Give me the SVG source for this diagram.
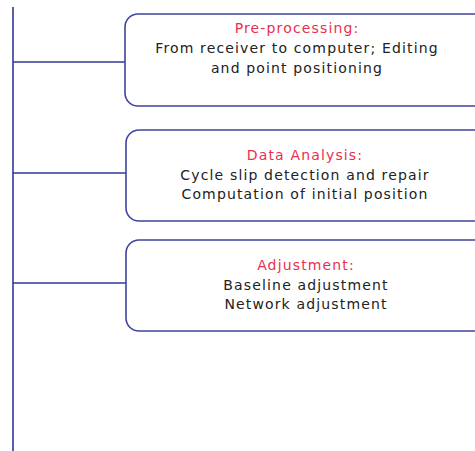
<svg xmlns="http://www.w3.org/2000/svg" width="475" height="451" viewBox="0 0 475 451">
<style>
.box{fill:#ffffff;stroke:#3f449c;stroke-width:1.6}
.conn{stroke:#33399a;stroke-width:1.6;fill:none}
.t{font-family:"DejaVu Sans",Verdana,sans-serif;font-size:14px;letter-spacing:1.15px;text-anchor:middle;fill:#222222}
.h{fill:#e8304e}
</style>
<rect width="475" height="451" fill="#ffffff"/>
<g id="connectors">
<line class="conn" x1="13" y1="7" x2="13" y2="451"/>
<line class="conn" x1="13" y1="62" x2="125" y2="62"/>
<line class="conn" x1="13" y1="173" x2="126" y2="173"/>
<line class="conn" x1="13" y1="283" x2="126" y2="283"/>
</g>
<g id="preprocessing">
<rect class="box" x="125" y="14" width="362" height="92" rx="13"/>
<text class="t h" x="297" y="33">Pre-processing:</text>
<text class="t" x="297" y="53">From receiver to computer; Editing</text>
<text class="t" x="297" y="72.5">and point positioning</text>
</g>
<g id="analysis">
<rect class="box" x="126" y="130" width="361" height="91" rx="13"/>
<text class="t h" x="305" y="160">Data Analysis:</text>
<text class="t" x="305" y="180">Cycle slip detection and repair</text>
<text class="t" x="305" y="199">Computation of initial position</text>
</g>
<g id="adjustment">
<rect class="box" x="126" y="240" width="361" height="91" rx="13"/>
<text class="t h" x="306" y="270">Adjustment:</text>
<text class="t" x="306" y="289.5">Baseline adjustment</text>
<text class="t" x="306" y="308.5">Network adjustment</text>
</g>
</svg>
